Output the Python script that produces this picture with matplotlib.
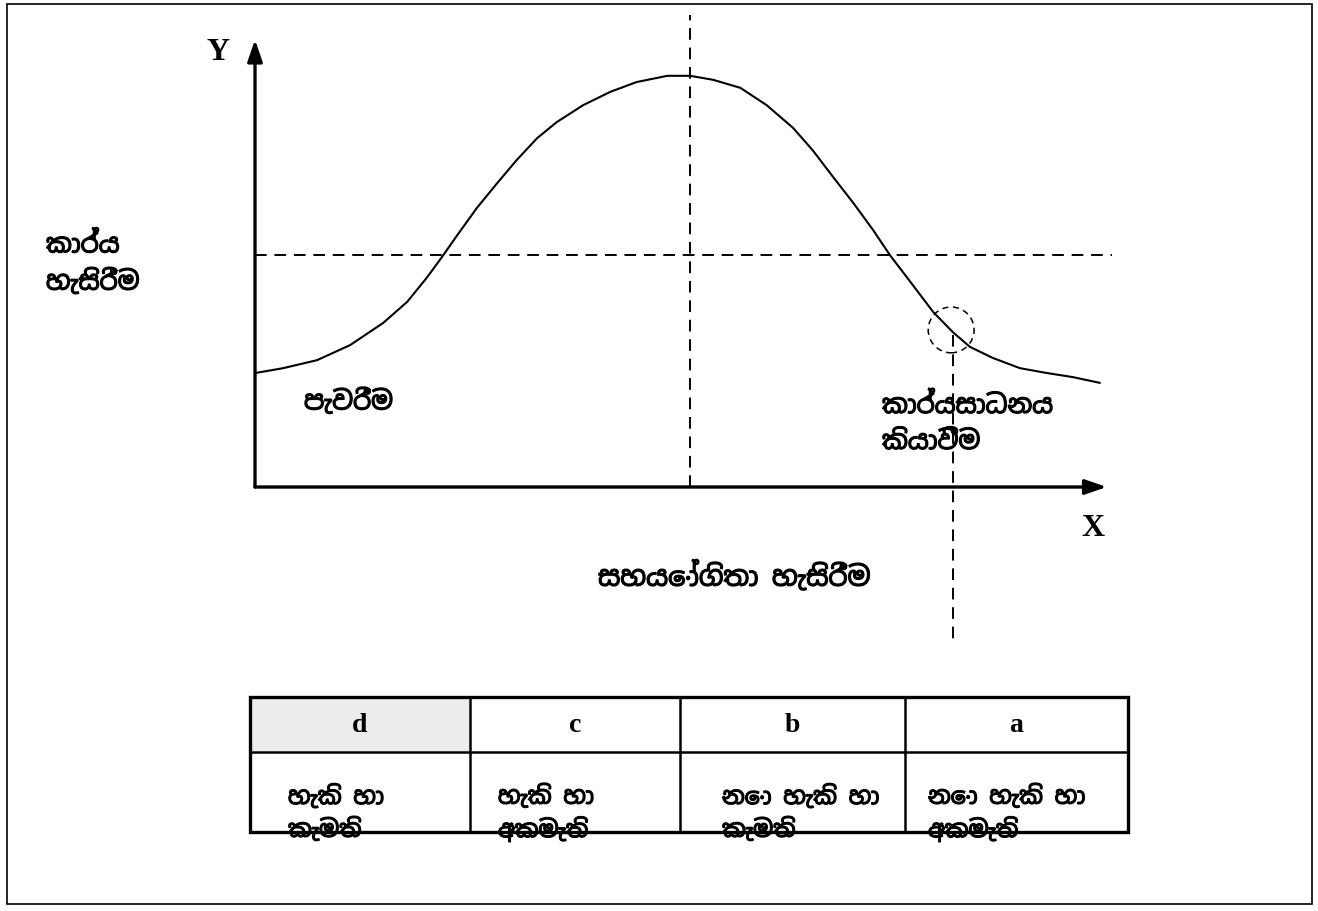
import matplotlib
matplotlib.use("Agg")
import matplotlib.pyplot as plt
import matplotlib.patheffects as pe
from matplotlib.patches import Ellipse, Rectangle
from matplotlib import font_manager
from matplotlib.ft2font import FT2Font

# ---- find a font with Sinhala glyphs, if any ----
sinhala_family = None
for f in sorted(font_manager.findSystemFonts()):
    try:
        ft = FT2Font(f)
        if 0x0D9A in ft.get_charmap():
            sinhala_family = font_manager.FontProperties(fname=f).get_name()
            if "Sinhala" in sinhala_family:
                break
    except Exception:
        pass
SIN = [sinhala_family, "DejaVu Sans"] if sinhala_family else ["DejaVu Sans"]
BOLD = [pe.withStroke(linewidth=0.9, foreground="black")]

# ---- data (chart units: x 0..10, y 0..10) ----
curve_x = [0.00, 0.33, 0.73, 1.12, 1.51, 1.79, 2.02, 2.20, 2.38, 2.61, 2.85, 3.08,
           3.32, 3.55, 3.86, 4.18, 4.49, 4.85, 5.12, 5.39, 5.71, 6.02, 6.33, 6.56,
           6.80, 7.04, 7.27, 7.47, 7.71, 7.98, 8.21, 8.41, 8.68, 9.00, 9.32, 9.62, 9.94]
curve_y = [2.56, 2.67, 2.85, 3.19, 3.69, 4.16, 4.70, 5.17, 5.66, 6.27, 6.83, 7.35,
           7.84, 8.20, 8.58, 8.88, 9.10, 9.24, 9.24, 9.15, 8.97, 8.58, 8.07, 7.57,
           6.97, 6.38, 5.78, 5.21, 4.61, 3.93, 3.48, 3.15, 2.90, 2.67, 2.56, 2.47, 2.34]
peak_x = 5.12
threshold_y = 5.21
point_x, point_y = 8.19, 3.53

y_label = "කාර්ය\nහැසිරීම"
x_label = "සහයෝගිතා හැසිරීම"
start_label = "පැවරීම"
end_label = "කාර්යසාධනය\nකියාවීම"

table_headers = ["d", "c", "b", "a"]
table_texts = ["හැකි හා\nකැමති", "හැකි හා\nඅකමැති", "නො හැකි හා\nකැමති", "නො හැකි හා\nඅකමැති"]

# ---- figure ----
W, H = 1318, 911
fig = plt.figure(figsize=(W / 100, H / 100), dpi=100)
fig.patch.set_facecolor("white")

# overlay in pixel coordinates for frame, table and free text
ov = fig.add_axes([0, 0, 1, 1])
ov.set_xlim(0, W)
ov.set_ylim(H, 0)
ov.axis("off")
ov.add_patch(Rectangle((7, 4), 1305, 900, fill=False, lw=1.2, ec="black"))

# main chart axes: origin at px (255,487), x to 1105, y to 42
x0, y0, x1, y1 = 255, 487, 1105, 42
ax = fig.add_axes([x0 / W, (H - y0) / H, (x1 - x0) / W, (y0 - y1) / H])
ax.set_xlim(0, 10)
ax.set_ylim(0, 10)
ax.axis("off")
ax.patch.set_alpha(0)

ax.plot(curve_x, curve_y, color="black", lw=1.5, solid_capstyle="round",
        solid_joinstyle="round")

dash = (0, (6, 4))
ax.plot([0, 10.08], [threshold_y, threshold_y], color="black", lw=1.4, linestyle=dash, clip_on=False)
ax.plot([peak_x, peak_x], [0, 10.6], color="black", lw=1.4, linestyle=dash, clip_on=False)
ax.add_patch(Ellipse((point_x, point_y), 0.54, 1.03, fill=False, ec="black", lw=1.1,
                     linestyle=(0, (4, 3)), clip_on=False))
ax.plot([point_x + 0.02, point_x + 0.02], [3.42, -3.44], color="black", lw=1.4,
        linestyle=dash, clip_on=False)

# axes with arrows
arrow = dict(arrowstyle="-|>,head_length=1.3,head_width=0.45", color="black", lw=2.4,
             shrinkA=0, shrinkB=0)
ax.annotate("", xy=(0, 10.05), xytext=(0, 0), arrowprops=arrow, annotation_clip=False)
ax.annotate("", xy=(10.02, 0), xytext=(0, 0), arrowprops=arrow, annotation_clip=False)

# text
ov.text(218, 52, "Y", fontsize=23, fontweight="bold", family="Liberation Serif",
        ha="center", va="center")
ov.text(1093, 529, "X", fontsize=23, fontweight="bold", family="Liberation Serif",
        ha="center", va="center")
ov.text(46, 264, y_label, fontsize=18.5, family=SIN, ha="left",
        va="center", linespacing=1.5, path_effects=BOLD)
ov.text(304, 402, start_label, fontsize=18.5, family=SIN, ha="left",
        va="center", path_effects=BOLD)
ov.text(882, 424, end_label, fontsize=18.5, family=SIN, ha="left",
        va="center", linespacing=1.5, path_effects=BOLD)
ov.text(598, 576, x_label, fontsize=19.5, family=SIN, ha="left",
        va="center", path_effects=BOLD)

# table
col_edges = [250, 470, 680, 905, 1128]
top, mid, bot = 697, 752, 832
ov.add_patch(Rectangle((col_edges[0] + 1, top + 1), col_edges[1] - col_edges[0] - 2,
                       mid - top - 2, fc="#ececec", ec="none"))
ov.add_patch(Rectangle((col_edges[0], top), col_edges[-1] - col_edges[0], bot - top,
                       fill=False, ec="black", lw=2.4))
ov.plot([col_edges[0], col_edges[-1]], [mid, mid], color="black", lw=1.8)
for xe in col_edges[1:-1]:
    ov.plot([xe, xe], [top, bot], color="black", lw=1.8)
text_offsets = [38, 28, 42, 23]
for i, (hd, tx) in enumerate(zip(table_headers, table_texts)):
    cx = (col_edges[i] + col_edges[i + 1]) / 2
    ov.text(cx, 726, hd, fontsize=20, fontweight="bold", family="Liberation Serif",
            ha="center", va="center")
    ov.text(col_edges[i] + text_offsets[i], 813, tx, fontsize=17, family=SIN,
            ha="left", va="center", linespacing=1.4, path_effects=BOLD)

fig.savefig("out.png", dpi=100, facecolor="white")
